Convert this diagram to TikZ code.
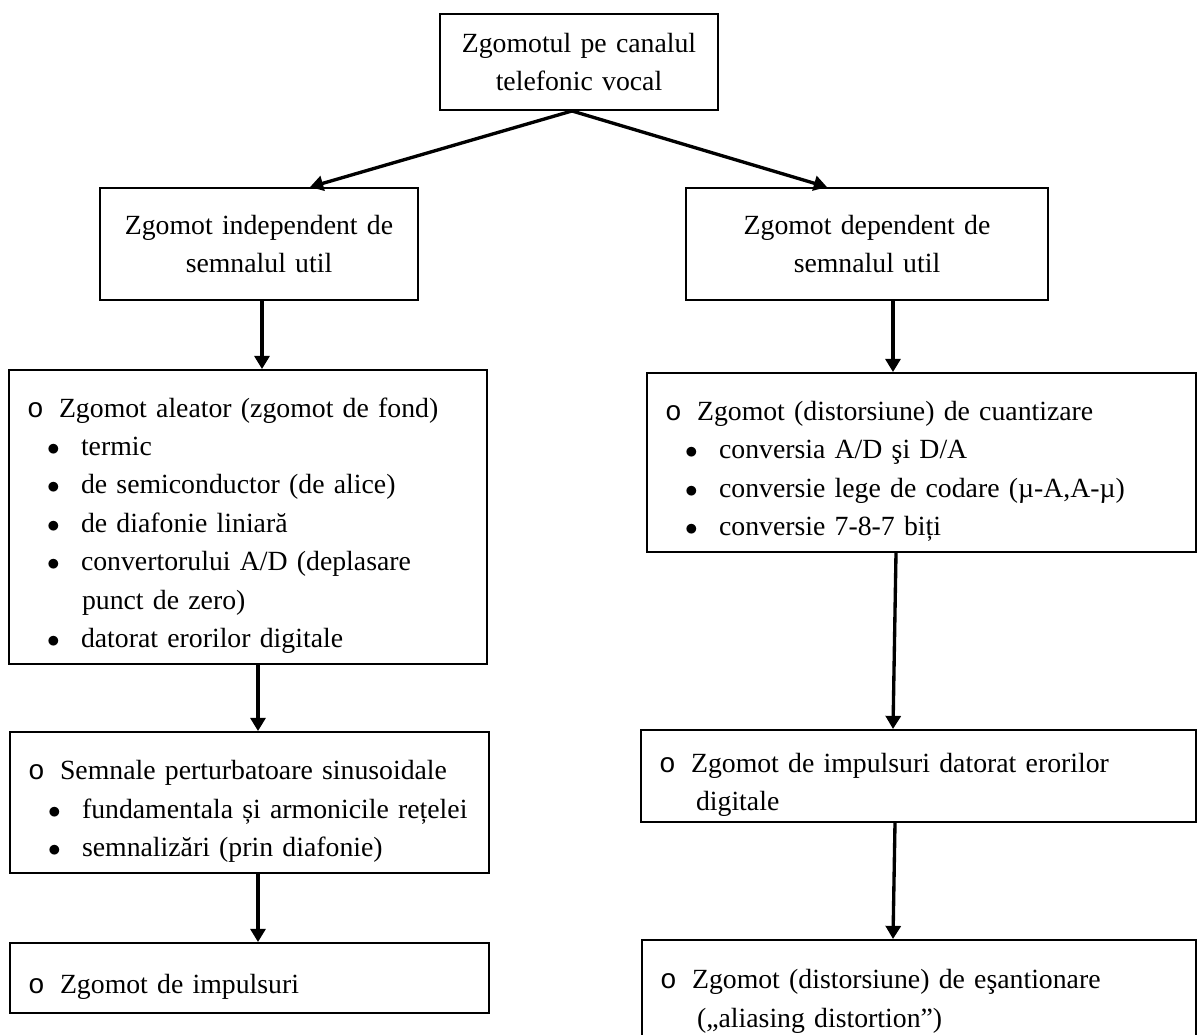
\documentclass[tikz,border=0pt]{standalone}
\usepackage{fontspec}
\setmainfont{Liberation Serif}
\newfontfamily\monofam{Liberation Mono}
\usetikzlibrary{arrows.meta}

\newcommand{\cerc}{\makebox[0.64cm][l]{\rule{0pt}{21pt}\monofam o}}
\newcommand{\itemo}[1]{\hangindent=0.74cm\hangafter=1 \cerc#1\par}
\newcommand{\itemb}[1]{\hangindent=1.1cm\hangafter=1 \hspace*{0.4cm}\makebox[0.68cm][l]{$\bullet$}#1\par}

\tikzset{
  cutie/.style={draw, line width=1.1pt, rectangle, inner ysep=0pt, inner xsep=0.36cm,
    font=\fontsize{15.8}{21.9}\selectfont},
  lista/.style={cutie, align=left},
  sageata/.style={line width=1.9pt, -{Triangle[length=7.5pt,width=8.5pt]}}
}

\begin{document}
\begin{tikzpicture}[x=0.02cm, y=-0.02cm]
\useasboundingbox (0,0) rectangle (1198,1035);

\node[cutie, text width=4.84cm, minimum height=1.92cm, align=center] (Zgomot) at (579,62)
  {Zgomotul pe canalul\\telefonic vocal};

\node[cutie, text width=5.64cm, minimum height=2.24cm, align=center] (Independent) at (259,244)
  {Zgomot independent de\\semnalul util};
\node[cutie, text width=6.52cm, minimum height=2.24cm, align=center] (Dependent) at (867,244)
  {Zgomot dependent de\\semnalul util};

% ramura stanga
\node[lista, text width=8.84cm, minimum height=5.88cm] (Aleator) at (248,517) {%
  \itemo{Zgomot aleator (zgomot de fond)}
  \itemb{termic}
  \itemb{de semiconductor (de alice)}
  \itemb{de diafonie liniară}
  \itemb{convertorului A/D (deplasare\break punct de zero)}
  \itemb{datorat erorilor digitale}};

\node[lista, text width=8.86cm, minimum height=2.82cm] (Sinusoidale) at (249.5,802.5) {%
  \itemo{Semnale perturbatoare sinusoidale}
  \itemb{fundamentala și armonicile rețelei}
  \itemb{semnalizări (prin diafonie)}};

\node[lista, text width=8.86cm, minimum height=1.40cm] (Impulsuri) at (249.5,978) {%
  \itemo{Zgomot de impulsuri}};

% ramura dreapta
\node[lista, text width=10.26cm, minimum height=3.58cm] (Cuantizare) at (921.5,462.5) {%
  \itemo{Zgomot (distorsiune) de cuantizare}
  \itemb{conversia A/D şi D/A}
  \itemb{conversie lege de codare (µ-A,A-µ)}
  \itemb{conversie 7-8-7 biți}};

\node[lista, text width=10.38cm, minimum height=1.84cm] (ImpulsuriDig) at (918.5,776) {%
  \itemo{Zgomot de impulsuri datorat erorilor\break digitale}};

\node[lista, text width=10.36cm, minimum height=2.10cm] (Esantionare) at (919,992.5) {%
  \itemo{Zgomot (distorsiune) de eşantionare\break („aliasing distortion”)}};

\draw[sageata] ([xshift=-0.14cm]Zgomot.south) -- ([xshift=1.02cm]Independent.north);
\draw[sageata] ([xshift=-0.14cm]Zgomot.south) -- ([xshift=-0.8cm]Dependent.north);

\draw[sageata] ([xshift=0.06cm]Independent.south) -- ([xshift=0.06cm]Independent.south |- Aleator.north);
\draw[sageata] ([xshift=0.2cm]Aleator.south) -- ([xshift=0.2cm]Aleator.south |- Sinusoidale.north);
\draw[sageata] ([xshift=0.17cm]Sinusoidale.south) -- ([xshift=0.17cm]Impulsuri.north);

\draw[sageata] ([xshift=0.52cm]Dependent.south) -- ([xshift=0.52cm]Dependent.south |- Cuantizare.north);
\draw[sageata] ([xshift=-0.51cm]Cuantizare.south) -- ([xshift=-0.51cm]ImpulsuriDig.north);
\draw[sageata] ([xshift=-0.47cm]ImpulsuriDig.south) -- ([xshift=-0.52cm]Esantionare.north);
\end{tikzpicture}
\end{document}
